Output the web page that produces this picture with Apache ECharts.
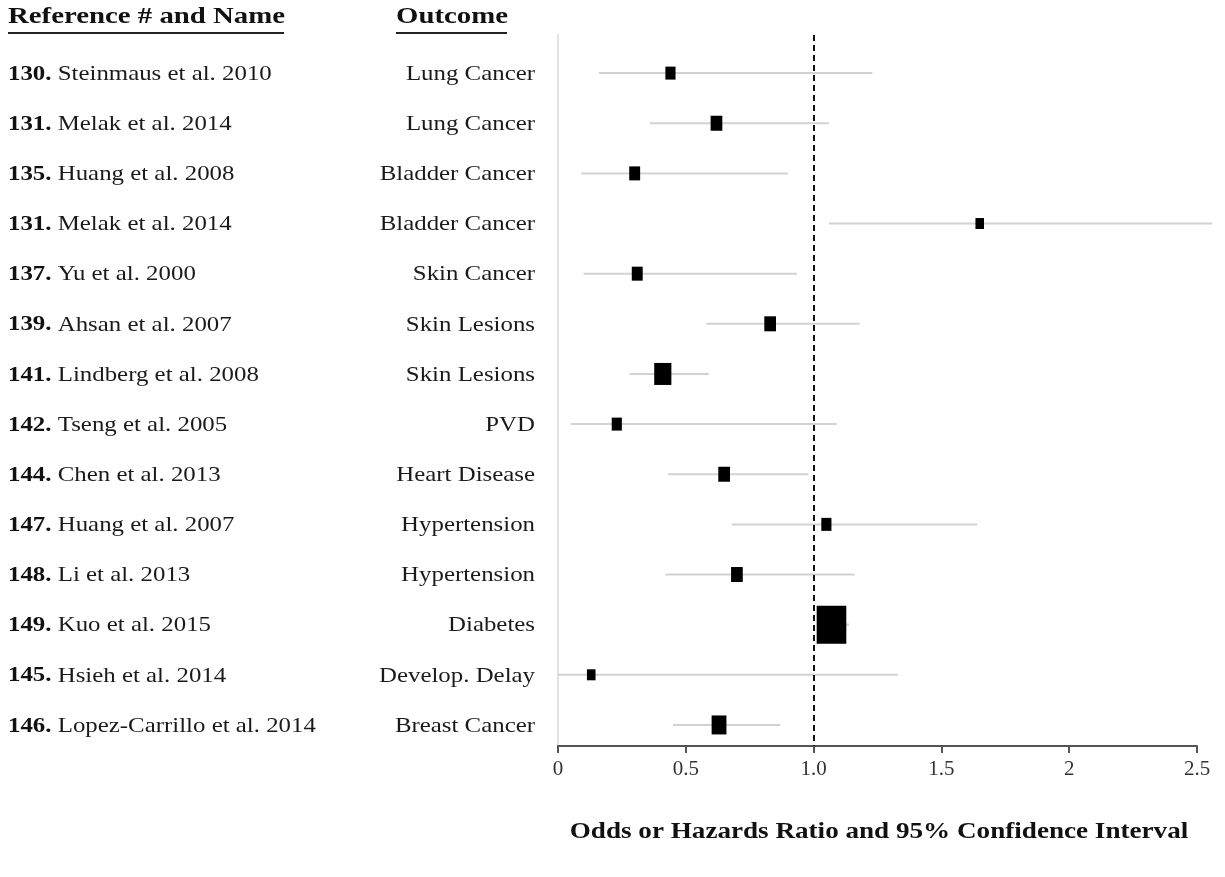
<!DOCTYPE html>
<html>
<head>
<meta charset="utf-8">
<script src="https://cdn.jsdelivr.net/npm/echarts@6/dist/echarts.min.js"></script>
<style>
html,body{margin:0;padding:0;background:#fff;}
#chart{width:1225px;height:877px;}
</style>
</head>
<body>
<div id="chart"></div>
<script>
// ---- data ----
const refNums = ['130.','131.','135.','131.','137.','139.','141.','142.','144.','147.','148.','149.','145.','146.'];
const authors = ['Steinmaus et al. 2010','Melak et al. 2014','Huang et al. 2008','Melak et al. 2014','Yu et al. 2000','Ahsan et al. 2007','Lindberg et al. 2008','Tseng et al. 2005','Chen et al. 2013','Huang et al. 2007','Li et al. 2013','Kuo et al. 2015','Hsieh et al. 2014','Lopez-Carrillo et al. 2014'];
const outcomes = ['Lung Cancer','Lung Cancer','Bladder Cancer','Bladder Cancer','Skin Cancer','Skin Lesions','Skin Lesions','PVD','Heart Disease','Hypertension','Hypertension','Diabetes','Develop. Delay','Breast Cancer'];
const estimates = [0.44,0.62,0.30,1.65,0.31,0.83,0.41,0.23,0.65,1.05,0.70,1.07,0.13,0.63];
const lowerCI   = [0.16,0.36,0.09,1.06,0.10,0.58,0.28,0.05,0.43,0.68,0.42,1.02,0.00,0.45];
const upperCI   = [1.23,1.06,0.90,2.56,0.935,1.18,0.59,1.09,0.98,1.64,1.16,1.14,1.33,0.87];
const weights   = [13,15,14,11,14,15,22,13,15,13,15,38,11,19];
const xTickLabels = ['0','0.5','1.0','1.5','2','2.5'];
const nullValue = 1.0;
const headers = ['Reference # and Name','Outcome'];
const axisTitle = 'Odds or Hazards Ratio and 95% Confidence Interval';

const FONT = '"Liberation Serif","Times New Roman",serif';
const SX = 1.13;

const rows = estimates.map((e,i)=>[i, e, lowerCI[i], upperCI[i], weights[i]]);

const chart = echarts.init(document.getElementById('chart'));
chart.setOption({
  animation:false,
  backgroundColor:'#fff',
  grid:{left:558, right:28, top:35, bottom:131},
  xAxis:{
    type:'value', min:0, max:2.5, interval:0.5,
    axisLine:{show:true, onZero:false, lineStyle:{color:'#555', width:2}},
    axisTick:{show:true, length:7, lineStyle:{color:'#555', width:2}},
    splitLine:{show:false},
    axisLabel:{
      margin:13, fontFamily:FONT, fontSize:21, color:'#333',
      formatter:(v)=>xTickLabels[Math.round(v/0.5)]
    }
  },
  yAxis:{
    type:'value', inverse:true, min:-0.76, max:13.42,
    axisLine:{show:true, onZero:false, lineStyle:{color:'#e2e2e2', width:2}},
    axisTick:{show:false}, axisLabel:{show:false}, splitLine:{show:false}
  },
  graphic:[
    {type:'text', x:8, y:29, scaleX:1.2, style:{text:headers[0], font:'bold 24px '+FONT, fill:'#111', verticalAlign:'bottom'}},
    {type:'line', shape:{x1:8,y1:33,x2:284,y2:33}, style:{stroke:'#222', lineWidth:2}},
    {type:'text', x:396, y:29, scaleX:1.2, style:{text:headers[1], font:'bold 24px '+FONT, fill:'#111', verticalAlign:'bottom'}},
    {type:'line', shape:{x1:396,y1:33,x2:507,y2:33}, style:{stroke:'#222', lineWidth:2}},
    {type:'text', x:879, y:832, scaleX:SX, style:{text:axisTitle, font:'bold 24px '+FONT, fill:'#111', align:'center', verticalAlign:'middle'}}
  ],
  series:[
    {
      type:'custom',
      clip:false,
      data:rows,
      renderItem:function(params, api){
        const i = api.value(0);
        const c = api.coord([api.value(1), i]);
        const lo = api.coord([api.value(2), i]);
        const hi = api.coord([api.value(3), i]);
        const h = api.value(4);
        const w = h*0.78;
        return {type:'group', children:[
          {type:'line', shape:{x1:lo[0], y1:c[1], x2:hi[0], y2:c[1]}, style:{stroke:'#d2d2d2', lineWidth:2}},
          {type:'rect', shape:{x:c[0]-w/2, y:c[1]-h/2, width:w, height:h}, style:{fill:'#000'}}
        ]};
      },
      z:3
    },
    {
      type:'custom',
      clip:false,
      data:rows.map(r=>[r[0]]),
      renderItem:function(params, api){
        const i = api.value(0);
        const y = api.coord([0, i])[1] + 1;
        return {type:'group', children:[
          {type:'text', x:8, y:y, scaleX:SX, style:{
            text:'{b|'+refNums[i]+'} '+authors[i],
            verticalAlign:'middle', align:'left',
            font:'22px '+FONT, fill:'#1a1a1a',
            rich:{b:{fontWeight:'bold', fontFamily:FONT, fontSize:22, fill:'#111'}}
          }},
          {type:'text', x:535, y:y, scaleX:SX, style:{
            text:outcomes[i], verticalAlign:'middle', align:'right',
            font:'22px '+FONT, fill:'#1a1a1a'
          }}
        ]};
      }
    },
    {
      type:'line',
      data:[],
      markLine:{
        silent:true, symbol:'none', label:{show:false},
        lineStyle:{color:'#111', type:[6,4], width:2},
        data:[{xAxis:nullValue}]
      }
    }
  ]
});
</script>
</body>
</html>
